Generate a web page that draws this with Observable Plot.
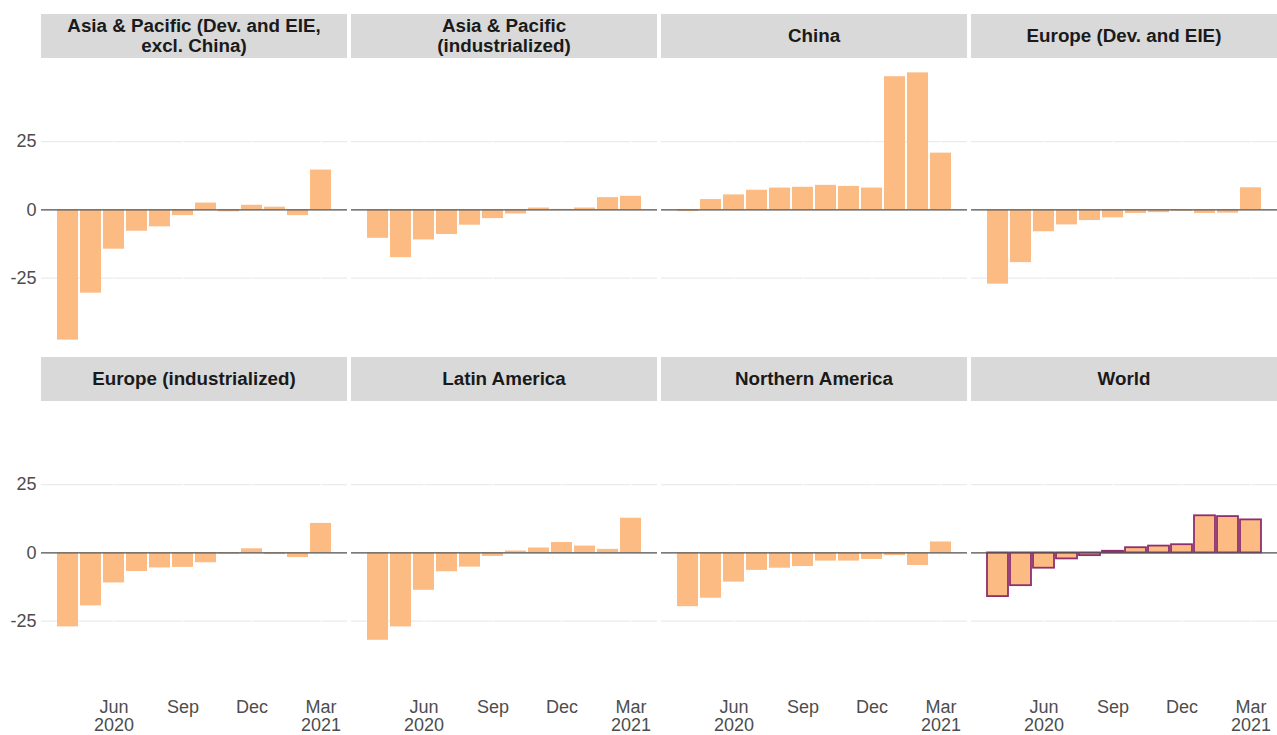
<!DOCTYPE html>
<html>
<head>
<meta charset="utf-8">
<script src="https://cdn.jsdelivr.net/npm/d3@7"></script>
<script src="https://cdn.jsdelivr.net/npm/@observablehq/plot@0.6"></script>
<style>
  html, body { margin: 0; padding: 0; background: #ffffff; }
  #chart { position: relative; width: 1277px; height: 735px; background: #ffffff;
           font-family: "Liberation Sans", Arial, Helvetica, sans-serif; }
  .strip { position: absolute; height: 44px; background: #d9d9d9; color: #1a1a1a;
           font-weight: bold; font-size: 18.8px; line-height: 20px; text-align: center;
           display: flex; align-items: center; justify-content: center; white-space: pre-line; }
  .panel { position: absolute; }
  .panel svg { overflow: visible; }
</style>
</head>
<body>
<div id="chart"></div>
<script>
// ---- data ----
const months = ["2020-04","2020-05","2020-06","2020-07","2020-08","2020-09",
                "2020-10","2020-11","2020-12","2021-01","2021-02","2021-03"];
const regions = [
  "Asia & Pacific (Dev. and EIE,\nexcl. China)",
  "Asia & Pacific\n(industrialized)",
  "China",
  "Europe (Dev. and EIE)",
  "Europe (industrialized)",
  "Latin America",
  "Northern America",
  "World"
];
const asiaPacificDev   = [-47.7, -30.5, -14.4, -7.8, -6.2, -2.1, 2.5, -0.7, 1.7, 1.0, -2.1, 14.6];
const asiaPacificInd   = [-10.4, -17.5, -11.0, -9.0, -5.6, -3.2, -1.5, 0.7, 0.2, 0.7, 4.5, 5.0];
const china            = [-0.6, 3.8, 5.5, 7.2, 8.0, 8.3, 9.0, 8.6, 8.0, 48.8, 50.2, 20.8];
const europeDev        = [-27.2, -19.3, -8.0, -5.5, -3.9, -2.9, -1.3, -1.0, -0.5, -1.3, -1.2, 8.1];
const europeInd        = [-27.1, -19.4, -11.0, -6.8, -5.5, -5.3, -3.6, -0.5, 1.5, -0.6, -1.7, 10.8];
const latinAmerica     = [-32.0, -27.1, -13.7, -6.9, -5.2, -1.3, 0.7, 1.8, 3.8, 2.5, 1.3, 12.7];
const northernAmerica  = [-19.7, -16.6, -10.7, -6.4, -5.6, -5.0, -3.0, -3.0, -2.4, -1.0, -4.6, 4.0];
const world            = [-16.0, -12.0, -5.6, -2.2, -1.0, 0.6, 1.9, 2.5, 3.0, 13.6, 13.3, 12.1];
const seriesList = [asiaPacificDev, asiaPacificInd, china, europeDev, europeInd, latinAmerica, northernAmerica, world];

const yTicks = [-25, 0, 25];
const xTicks = ["2020-06", "2020-09", "2020-12", "2021-03"];
const xTickLabels = ["Jun\n2020", "Sep", "Dec", "Mar\n2021"];

// ---- layout ----
const colX = [41, 351, 661, 971];
const panelW = 306;
const stripTop = [14, 357];
const panelTop = [59, 402];
const panelH = 294;
const xAxisH = 38;

const allVals = seriesList.flat();
const vmin = d3.min(allVals), vmax = d3.max(allVals);
const pad = (vmax - vmin) * 0.05;
const yDomain = [vmin - pad, vmax + pad];

const chart = document.getElementById("chart");

regions.forEach((name, i) => {
  const row = Math.floor(i / 4), col = i % 4;
  const data = months.map((m, j) => ({month: m, value: seriesList[i][j]}));
  const isWorld = name === "World";

  const strip = document.createElement("div");
  strip.className = "strip";
  strip.style.left = colX[col] + "px";
  strip.style.top = stripTop[row] + "px";
  strip.style.width = panelW + "px";
  strip.textContent = name;
  chart.appendChild(strip);

  const mLeft = col === 0 ? 41 : 0;
  const mBottom = row === 1 ? xAxisH : 0;

  const marks = [
    Plot.gridY(yTicks, {stroke: "#ebebeb", strokeOpacity: 1, strokeWidth: 1.1}),
    Plot.ruleX(xTicks, {stroke: "#ffffff", strokeWidth: 1}),
    Plot.barY(data, {
      x: "month", y: "value", fill: "#fdbb84",
      stroke: isWorld ? "#8e2f6f" : null, strokeWidth: isWorld ? 1.8 : 0
    }),
    Plot.ruleY([0], {stroke: "#555555", strokeWidth: 1.2})
  ];
  if (col === 0) {
    marks.push(Plot.axisY(yTicks, {tickSize: 0, tickPadding: 5, fontSize: 18, fill: "#4d4d4d", label: null,
      tickFormat: d => String(d)}));
  }
  if (row === 1) {
    marks.push(Plot.axisX(xTicks, {tickSize: 0, tickPadding: 3, fontSize: 18, fill: "#4d4d4d", lineHeight: 1.02, label: null,
      tickFormat: d => xTickLabels[xTicks.indexOf(d)]}));
  }

  const svg = Plot.plot({
    width: mLeft + panelW,
    height: panelH + mBottom,
    marginLeft: mLeft, marginRight: 0, marginTop: 0, marginBottom: mBottom,
    x: {type: "band", domain: months, paddingInner: 0.08, paddingOuter: 0.575, axis: null, label: null},
    y: {domain: yDomain, axis: null, label: null},
    style: {fontFamily: "'Liberation Sans', Arial, Helvetica, sans-serif", fontSize: "18px", background: "transparent", overflow: "visible"},
    marks
  });
  const wrap = document.createElement("div");
  wrap.className = "panel";
  wrap.style.left = (colX[col] - mLeft) + "px";
  wrap.style.top = panelTop[row] + "px";
  wrap.appendChild(svg);
  chart.appendChild(wrap);
});
</script>
</body>
</html>
